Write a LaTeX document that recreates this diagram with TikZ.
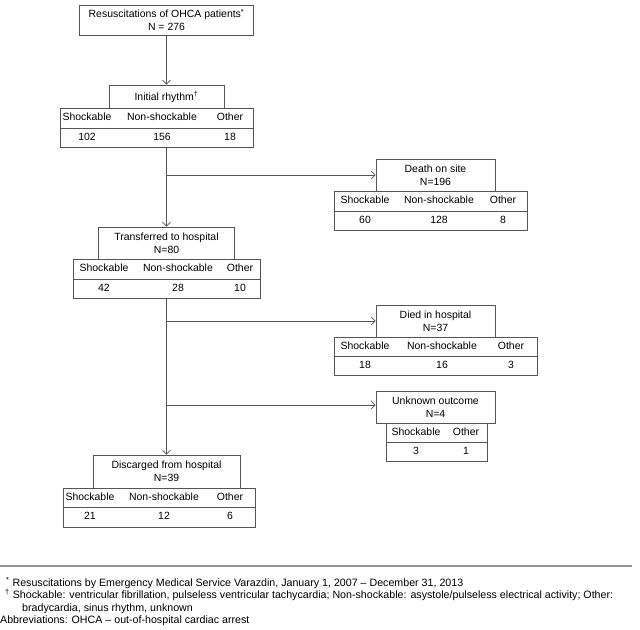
\documentclass[tikz,border=0pt]{standalone}
\usepackage{fontspec}
\setmainfont{Liberation Sans}
\usetikzlibrary{arrows.meta,positioning}
\definecolor{linegray}{RGB}{85,85,85}
\definecolor{rulegray}{RGB}{150,150,150}

\begin{document}
\begin{tikzpicture}[x=1bp, y=-1bp,
        font=\fontsize{10.5}{13}\selectfont,
        box/.style={draw=linegray, line width=0.7pt, align=center, inner sep=0pt},
        lbl/.style={inner sep=0pt, text height=7.6bp, text depth=2.2bp},
        arr/.style={draw=linegray, line width=0.7pt, -{Straight Barb[length=4bp,width=8bp]}},
        link/.style={draw=linegray, line width=0.7pt},
        note/.style={anchor=base west, inner sep=0pt, font=\fontsize{10.7}{12}\selectfont}]
    \useasboundingbox (0,0) rectangle (640,630);

    % all resuscitations
    \node[box, minimum width=174bp, minimum height=30bp] (total) at (166.5,20)
        {Resuscitations of OHCA patients\textsuperscript{*}\\N = 276};

    % initial rhythm
    \node[box, minimum width=115bp, minimum height=23bp] (rhythm) at (166.5,96.5)
        {Initial rhythm\textsuperscript{†}};
    \node[box, minimum width=193bp, minimum height=20bp] (rhythmhead) at (156.5,118) {};
    \node[box, minimum width=193bp, minimum height=19bp] (rhythmval) at (156.5,137.5) {};
    \foreach \x/\h/\v [count=\i] in {87/Shockable/102, 162/Non-shockable/156, 230/Other/18} {
        \node[lbl] (rhythmh\i) at (\x,118) {\h};
        \node[lbl] (rhythmv\i) at (\x,137.5) {\v};
    }

    % death on site
    \node[box, minimum width=119bp, minimum height=32bp] (death) at (435.5,175)
        {Death on site\\N=196};
    \node[box, minimum width=193bp, minimum height=20bp] (deathhead) at (430.5,201) {};
    \node[box, minimum width=193bp, minimum height=19bp] (deathval) at (430.5,220.5) {};
    \foreach \x/\h/\v [count=\i] in {365/Shockable/60, 439/Non-shockable/128, 503/Other/8} {
        \node[lbl] (deathh\i) at (\x,201) {\h};
        \node[lbl] (deathv\i) at (\x,220.5) {\v};
    }

    % transferred to hospital
    \node[box, minimum width=136bp, minimum height=32bp] (transfer) at (166.5,243)
        {Transferred to hospital\\N=80};
    \node[box, minimum width=187bp, minimum height=20bp] (transferhead) at (166.5,269) {};
    \node[box, minimum width=187bp, minimum height=19bp] (transferval) at (166.5,288.5) {};
    \foreach \x/\h/\v [count=\i] in {104/Shockable/42, 178/Non-shockable/28, 240/Other/10} {
        \node[lbl] (transferh\i) at (\x,269) {\h};
        \node[lbl] (transferv\i) at (\x,288.5) {\v};
    }

    % died in hospital
    \node[box, minimum width=119bp, minimum height=32bp] (died) at (435.5,321)
        {Died in hospital\\N=37};
    \node[box, minimum width=203bp, minimum height=19bp] (diedhead) at (435.5,346.5) {};
    \node[box, minimum width=203bp, minimum height=19bp] (diedval) at (435.5,365.5) {};
    \foreach \x/\h/\v [count=\i] in {365/Shockable/18, 442/Non-shockable/16, 511/Other/3} {
        \node[lbl] (diedh\i) at (\x,346.5) {\h};
        \node[lbl] (diedv\i) at (\x,365.5) {\v};
    }

    % unknown outcome
    \node[box, minimum width=119bp, minimum height=32bp] (unknown) at (435.5,407)
        {Unknown outcome\\N=4};
    \node[box, minimum width=101bp, minimum height=19bp] (unknownhead) at (436.5,432.5) {};
    \node[box, minimum width=101bp, minimum height=19bp] (unknownval) at (436.5,451.5) {};
    \foreach \x/\h/\v [count=\i] in {416/Shockable/3, 466/Other/1} {
        \node[lbl] (unknownh\i) at (\x,432.5) {\h};
        \node[lbl] (unknownv\i) at (\x,451.5) {\v};
    }

    % discharged
    \node[box, minimum width=147bp, minimum height=33bp] (discharged) at (166.5,471.5)
        {Discarged from hospital\\N=39};
    \node[box, minimum width=192bp, minimum height=19bp] (dischargedhead) at (159,497.5) {};
    \node[box, minimum width=192bp, minimum height=20bp] (dischargedval) at (159,517) {};
    \foreach \x/\h/\v [count=\i] in {90/Shockable/21, 164/Non-shockable/12, 230/Other/6} {
        \node[lbl] (dischargedh\i) at (\x,497.5) {\h};
        \node[lbl] (dischargedv\i) at (\x,517) {\v};
    }

    % connectors
    \draw[arr] (total) -- (rhythm);
    \draw[arr] (rhythm |- rhythmval.south) -- (transfer.north);
    \coordinate (split1) at (166.5,175);
    \draw[arr] (split1) -- (split1 -| death.west);
    \draw[arr] (transfer |- transferval.south) -- (discharged.north);
    \coordinate (split2) at (166.5,321);
    \draw[arr] (split2) -- (split2 -| died.west);
    \coordinate (split3) at (166.5,405);
    \draw[arr] (split3) -- (split3 -| unknown.west);

    % footnotes
    \draw[rulegray, line width=1.2pt] (0,566) -- (632,566);
    \node[note] (fn1) at (6,586.5)
        {\textsuperscript{*} Resuscitations by Emergency Medical Service Varazdin, January 1, 2007 -- December 31, 2013};
    \node[note] (fn2) at (5,598.5)
        {\textsuperscript{†} Shockable: ventricular fibrillation, pulseless ventricular tachycardia; Non-shockable: asystole/pulseless electrical activity; Other:};
    \node[note] (fn3) at (22,611)
        {bradycardia, sinus rhythm, unknown};
    \node[note] (fn4) at (0,623.5)
        {Abbreviations: OHCA -- out-of-hospital cardiac arrest};
\end{tikzpicture}
\end{document}
